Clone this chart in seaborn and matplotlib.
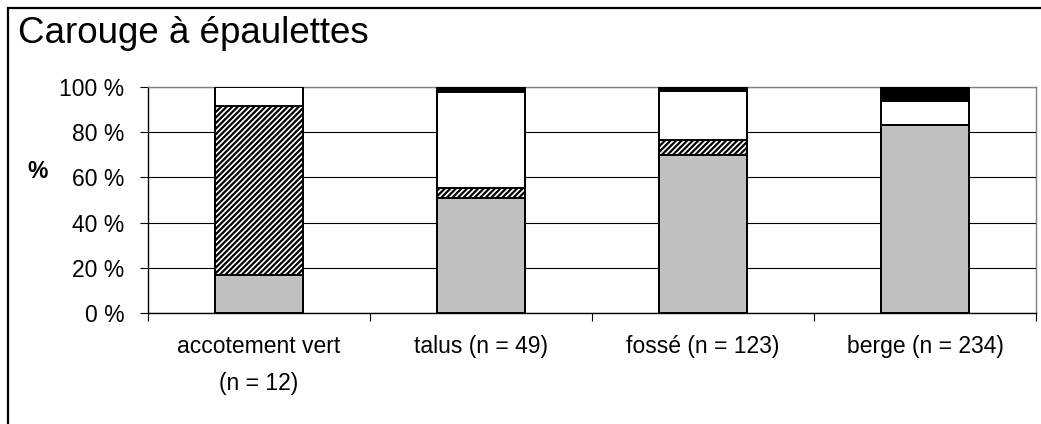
import matplotlib
matplotlib.use("Agg")
import matplotlib.pyplot as plt
import seaborn as sns
import pandas as pd
import numpy as np
from matplotlib.patches import Rectangle

# ---- data (percent of observations per habitat) ----
categories = ["accotement vert\n(n = 12)", "talus (n = 49)", "fossé (n = 123)", "berge (n = 234)"]
gray_vals = [16.7, 51.0, 69.9, 83.3]
hatch_vals = [75.0, 4.1, 6.5, 0.0]
white_vals = [8.3, 42.9, 22.0, 10.3]
black_vals = [0.0, 2.0, 1.6, 6.4]
y_ticks = [0, 20, 40, 60, 80, 100]
y_tick_labels = ["0 %", "20 %", "40 %", "60 %", "80 %", "100 %"]
title = "Carouge à épaulettes"
y_label = "%"

sns.set_style("white")
plt.rcParams["font.family"] = ["Liberation Sans", "DejaVu Sans"]
plt.rcParams["hatch.linewidth"] = 1.6
plt.rcParams["hatch.color"] = "black"
for k in ["text.color", "xtick.color", "ytick.color", "axes.labelcolor"]:
    plt.rcParams[k] = "black"

df = pd.DataFrame({
    "cat": categories,
    "gray": gray_vals,
    "hatch": hatch_vals,
    "white": white_vals,
    "black": black_vals,
})
df["c_gray"] = df["gray"]
df["c_hatch"] = df["c_gray"] + df["hatch"]
df["c_white"] = df["c_hatch"] + df["white"]
df["c_black"] = df["c_white"] + df["black"]

fig = plt.figure(figsize=(10.41, 4.24), dpi=100)
ax = fig.add_axes([148 / 1041, 1 - 313 / 424, (1036 - 148) / 1041, (313 - 87) / 424])

ax.set_axisbelow(True)
ax.yaxis.grid(True, color="black", linewidth=0.8)

common = dict(data=df, x="cat", order=categories, width=0.4, saturation=1,
              edgecolor="black", linewidth=1.4, ax=ax, zorder=3)
sns.barplot(y="c_black", color="black", **common)
sns.barplot(y="c_white", color="white", **common)
sns.barplot(y="c_hatch", color="white", hatch="//////", **common)
sns.barplot(y="c_gray", color="#C0C0C0", **common)

ax.set_xlim(-0.5, len(categories) - 0.5)
ax.set_ylim(0, 100)
ax.set_yticks(y_ticks)
ax.set_yticklabels(y_tick_labels, fontsize=16.5)
ax.set_xticks(range(len(categories)))
ax.set_xticklabels(categories, fontsize=16.5, linespacing=1.75)
ax.set_xticks(np.arange(-0.5, len(categories), 1.0), minor=True)
ax.tick_params(axis="x", which="major", length=0, pad=16)
ax.tick_params(axis="x", which="minor", length=6, width=0.8, color="black", direction="out", bottom=True)
ax.tick_params(axis="y", which="major", length=6, width=0.8, color="black", direction="out", left=True, pad=11)
ax.set_xlabel("")
ax.set_ylabel("")

for side in ["left", "bottom"]:
    ax.spines[side].set_color("black")
    ax.spines[side].set_linewidth(1.0)
for side in ["top", "right"]:
    ax.spines[side].set_visible(True)
    ax.spines[side].set_color("#808080")
    ax.spines[side].set_linewidth(1.0)

fig.text(38 / 1041, 1 - 172 / 424, y_label, fontsize=16.5, fontweight="bold",
         ha="center", va="center")
fig.text(18 / 1041, 1 - 43 / 424, title, fontsize=26.5, ha="left", va="baseline")

fig.patches.append(Rectangle((8 / 1041, -0.5), 2.0, 1.5 - 8 / 424, transform=fig.transFigure,
                             fill=False, edgecolor="black", linewidth=1.6))

fig.savefig("out.png", dpi=100)
